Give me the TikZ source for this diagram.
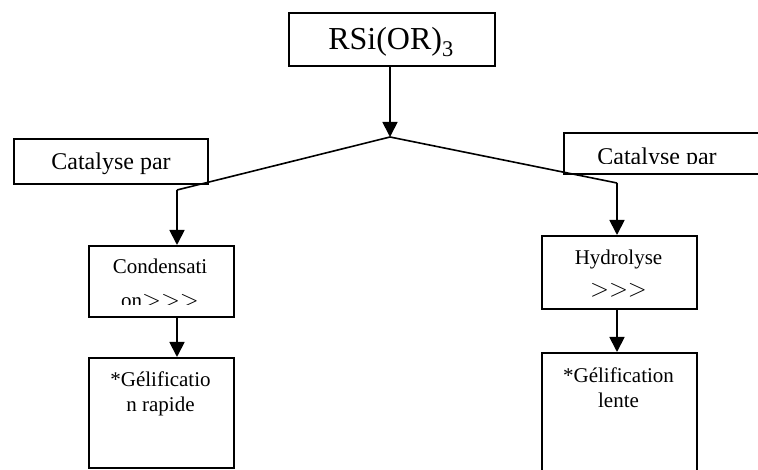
\documentclass[tikz,border=0pt]{standalone}
\usepackage{fontspec}
\setmainfont{Liberation Serif}
\usetikzlibrary{arrows.meta}
\newcommand{\chevrons}{{\fontsize{24}{26}\selectfont$>>>$}}
\begin{document}
\begin{tikzpicture}[x=1pt,y=-1pt,
  box/.style={draw,line width=1.6pt,inner sep=0pt,anchor=north west},
  flow/.style={line width=1.8pt,-{Triangle[length=15pt,width=15pt]}},
  branch/.style={line width=1.6pt},
  lbl/.style={font=\fontsize{21}{24}\selectfont,inner sep=0pt,anchor=base},
  catlbl/.style={font=\fontsize{24}{27}\selectfont,inner sep=0pt,anchor=base},
]
\useasboundingbox (0,0) rectangle (758,470);
\clip (0,0) rectangle (758,470);

% boxes
\node[box,minimum width=206pt,minimum height=53pt] (src) at (288,12) {};
\node[box,minimum width=194pt,minimum height=45pt] (catL) at (13,138) {};
\node[box,minimum width=210pt,minimum height=41pt] (catR) at (563,132) {};
\node[box,minimum width=145pt,minimum height=71pt] (cond) at (88,245) {};
\node[box,minimum width=155pt,minimum height=73pt] (hydro) at (541,235) {};
\node[box,minimum width=145pt,minimum height=110pt] (gelL) at (88,357) {};
\node[box,minimum width=155pt,minimum height=130pt] (gelR) at (541,352) {};

% branching points
\coordinate (apex) at (390,137);
\coordinate (bendL) at (177,190);
\coordinate (bendR) at (617,183);

% connectors
\draw[flow] (src.south -| apex) -- (apex);
\draw[branch] (apex) -- (bendL);
\draw[branch] (apex) -- (bendR);
\draw[flow] (bendL) -- (bendL |- cond.north);
\draw[flow] (bendR) -- (bendR |- hydro.north);
\draw[flow] (cond.south -| bendL) -- (gelL.north -| bendL);
\draw[flow] (hydro.south -| bendR) -- (gelR.north -| bendR);

% labels
\node[font=\fontsize{32}{36}\selectfont,inner sep=0pt,anchor=base] (srcT) at (391,50) {RSi(OR)\textsubscript{3}};
\node[catlbl] (catLT) at (111,170) {Catalyse par};
\begin{scope}
  \clip (563,132) rectangle (758,164);
  \node[catlbl] (catRT) at (657,165) {Catalyse par};
\end{scope}
\node[lbl] (condT) at (160,274) {Condensati};
\begin{scope}
  \clip (88,245) rectangle (233,305);
  \node[lbl] (condT2) at (160,308) {on\chevrons};
\end{scope}
\node[lbl] (hydroT) at (618.5,265) {Hydrolyse};
\node[lbl] (hydroT2) at (618.5,297) {\chevrons};
\node[lbl] (gelLT) at (160.5,387) {*Gélificatio};
\node[lbl] (gelLT2) at (160.5,411) {n rapide};
\node[lbl] (gelRT) at (618.5,383) {*Gélification};
\node[lbl] (gelRT2) at (618.5,407) {lente};
\end{tikzpicture}
\end{document}
